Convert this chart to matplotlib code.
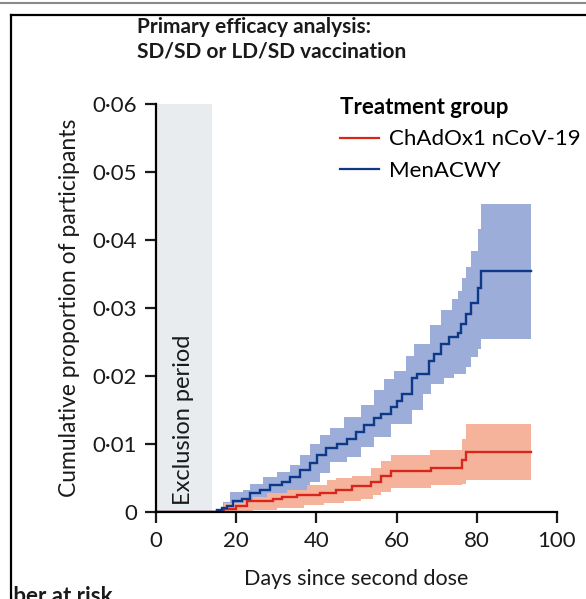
import numpy as np
import matplotlib
matplotlib.use("Agg")
import matplotlib.pyplot as plt
from matplotlib.transforms import Bbox, TransformedBbox, IdentityTransform
from matplotlib.lines import Line2D

plt.rcParams['font.family'] = ['Lato', 'DejaVu Sans']

# ---------------- data ----------------
title_lines = ["Primary efficacy analysis:", "SD/SD or LD/SD vaccination"]
group_names = ["ChAdOx1 nCoV-19", "MenACWY"]
x_ticks = [0, 20, 40, 60, 80, 100]
y_ticks = [0, 0.01, 0.02, 0.03, 0.04, 0.05, 0.06]
y_tick_labels = ["0", "0·01", "0·02", "0·03", "0·04", "0·05", "0·06"]
exclusion_days = (0, 14)
follow_up_end = 93.5

# MenACWY: Kaplan-Meier cumulative proportion (step changes)
blue_t = [0, 15.2, 16.5, 17.7, 19.3, 21.4, 23.5, 26.0, 28.5, 31.4, 33.5, 36.0,
          38.5, 40.2, 42.3, 45.2, 47.7, 49.8, 51.8, 54.3, 56.0, 58.5, 60.2,
          61.4, 63.9, 65.2, 68.1, 69.3, 71.0, 73.1, 75.2, 76.0, 77.3, 78.5,
          80.2, 81.0]
blue_est = [0, 0.0003, 0.0006, 0.0009, 0.0016, 0.0020, 0.0028, 0.0033, 0.0040,
            0.0045, 0.0052, 0.0062, 0.0072, 0.0084, 0.0094, 0.0100, 0.0108,
            0.0118, 0.0128, 0.0138, 0.0145, 0.0155, 0.0164, 0.0174, 0.0198,
            0.0203, 0.0223, 0.0233, 0.0247, 0.0258, 0.0264, 0.0277, 0.0291,
            0.0308, 0.0330, 0.0355]
blue_hi_t = [15.0, 15.2, 16.8, 18.5, 21.8, 23.5, 26.8, 30.2, 33.5, 36.0, 38.5,
             41.0, 43.5, 47.0, 51.0, 54.3, 56.8, 59.3, 62.4, 64.4, 68.3, 71.0,
             73.9, 75.2, 76.4, 77.3, 78.5, 80.2, 81.0]
blue_hi = [0, 0.0005, 0.0015, 0.0030, 0.0033, 0.0042, 0.0052, 0.0059, 0.0069,
           0.0084, 0.0101, 0.0113, 0.0124, 0.0140, 0.0157, 0.0179, 0.0196,
           0.0207, 0.0229, 0.0248, 0.0275, 0.0298, 0.0314, 0.0325, 0.0345,
           0.0360, 0.0384, 0.0416, 0.0453]
blue_lo_t = [15.0, 21.0, 23.5, 26.0, 30.2, 34.3, 38.5, 41.0, 43.5, 47.7, 51.0,
             54.3, 58.5, 63.9, 66.5, 68.5, 71.8, 74.3, 77.3, 78.5, 80.2, 81.0]
blue_lo = [0, 0.0004, 0.0009, 0.0016, 0.0023, 0.0030, 0.0045, 0.0058, 0.0074,
           0.0081, 0.0096, 0.0111, 0.0130, 0.0150, 0.0174, 0.0189, 0.0198,
           0.0203, 0.0213, 0.0228, 0.0240, 0.0255]

# ChAdOx1 nCoV-19
red_t = [0, 15.2, 17.0, 20.0, 22.7, 24.8, 29.3, 31.4, 35.2, 41.0, 45.0, 49.0,
         53.5, 56.0, 58.5, 68.5, 76.4, 77.3]
red_est = [0, 0.0002, 0.0005, 0.0009, 0.0016, 0.0017, 0.0020, 0.0023, 0.0025,
           0.0029, 0.0033, 0.0038, 0.0044, 0.0053, 0.0060, 0.0065, 0.0077,
           0.0089]
red_hi_t = [14.6, 15.2, 17.0, 22.0, 24.3, 27.7, 32.7, 37.7, 42.7, 45.0, 49.0,
            53.5, 56.0, 58.5, 68.3, 76.4, 77.3]
red_hi = [0, 0.0005, 0.0013, 0.0018, 0.0023, 0.0028, 0.0033, 0.0040, 0.0047,
          0.0050, 0.0054, 0.0065, 0.0076, 0.0084, 0.0091, 0.0108, 0.0130]
red_lo_t = [14.6, 24.3, 30.2, 36.8, 42.0, 47.0, 51.0, 54.0, 56.0, 58.5, 68.5,
            76.4, 77.3]
red_lo = [0, 0.0003, 0.0007, 0.0010, 0.0013, 0.0016, 0.0020, 0.0025, 0.0030,
          0.0036, 0.0040, 0.0042, 0.0048]

# ---------------- styling ----------------
RED = "#d8261c"
RED_BAND = "#f6b39b"
BLUE = "#0e3888"
BLUE_BAND = "#9badd8"
EXCL = "#e8ecef"
INK = "#1a1a1a"

W, H = 586, 599
fig = plt.figure(figsize=(W / 100, H / 100), dpi=100)

def px_rect(l, t, r, b):
    return [l / W, 1 - b / H, (r - l) / W, (b - t) / H]

ax = fig.add_axes(px_rect(156, 104, 557, 512.3))


def step_eval(t, v, grid):
    idx = np.searchsorted(np.asarray(t), grid, side="right") - 1
    idx = np.clip(idx, 0, len(v) - 1)
    return np.asarray(v)[idx]


def band(lo_t, lo, hi_t, hi, color, z):
    grid = np.unique(np.concatenate([lo_t, hi_t, [follow_up_end]]))
    grid = grid[grid >= min(lo_t[0], hi_t[0])]
    ax.fill_between(grid, step_eval(lo_t, lo, grid), step_eval(hi_t, hi, grid),
                    step="post", color=color, lw=0, zorder=z)


def km_line(t, v, color, z, label):
    ax.step(list(t) + [follow_up_end], list(v) + [v[-1]], where="post",
            color=color, lw=1.7, zorder=z, label=label, solid_joinstyle="miter")


ax.axvspan(exclusion_days[0], exclusion_days[1], ymin=0, ymax=1, color=EXCL,
           lw=0, zorder=0)
band(blue_lo_t, blue_lo, blue_hi_t, blue_hi, BLUE_BAND, 1)
band(red_lo_t, red_lo, red_hi_t, red_hi, RED_BAND, 2)
km_line(red_t, red_est, RED, 3, group_names[0])
km_line(blue_t, blue_est, BLUE, 4, group_names[1])

ax.text(6.8, 0.01356, "Exclusion period", rotation=90, ha="center",
        va="center", fontsize=17, color=INK)

ax.set_xlim(0, 100)
ax.set_ylim(0, 0.06)
ax.set_xticks(x_ticks)
ax.set_xticklabels([str(v) for v in x_ticks])
ax.set_yticks(y_ticks)
ax.set_yticklabels(y_tick_labels)
for s in ["top", "right"]:
    ax.spines[s].set_visible(False)
for s in ["left", "bottom"]:
    ax.spines[s].set_linewidth(1.6)
    ax.spines[s].set_zorder(5)
ax.tick_params(axis="both", length=8, width=1.6, labelsize=16, pad=5.5,
               colors=INK, labelcolor=INK)
ax.set_xlabel("Days since second dose", fontsize=15.5, labelpad=13, color=INK)
ax.set_ylabel("Cumulative proportion of participants", fontsize=16.5,
              labelpad=9, color=INK)
ax.set_facecolor("none")

leg = ax.legend(loc="upper left", bbox_to_anchor=(0.436, 1.038),
                frameon=False, fontsize=16, handlelength=1.75,
                handletextpad=0.45, labelspacing=0.5, borderaxespad=0,
                title="Treatment group",
                title_fontproperties={"size": 16, "weight": "bold"},
                alignment="left")
for h in leg.get_lines():
    h.set_linewidth(1.6)

# title
fig.text(137 / W, 1 - 27 / H, title_lines[0], fontsize=15,
         fontweight="bold", va="center", ha="left", color=INK)
fig.text(137 / W, 1 - 52 / H, title_lines[1], fontsize=15,
         fontweight="bold", va="center", ha="left", color=INK)

# screenshot frame
fig.add_artist(Line2D([0, 1], [1 - 2.5 / H, 1 - 2.5 / H], color="#8a8a8a",
                      lw=1.5, transform=fig.transFigure))
fig.add_artist(Line2D([11 / W, 1], [1 - 15 / H, 1 - 15 / H], color="black",
                      lw=1.6, transform=fig.transFigure))
fig.add_artist(Line2D([11 / W, 11 / W], [0, 1 - 15 / H], color="black",
                      lw=1.6, transform=fig.transFigure))

# "Number at risk" heading, cut by the frame as in the screenshot
risk_kw = dict(fontsize=16, fontweight="bold", ha="left", va="baseline",
               color=INK)
renderer = fig.canvas.get_renderer()
probe = fig.text(0, 0, "Num", **risk_kw)
num_w = probe.get_window_extent(renderer).width
probe.remove()
t = fig.text((13 - num_w) / W, 1 - 603 / H, "Number at risk", **risk_kw)
t.set_clip_box(TransformedBbox(Bbox.from_extents(12, 0, W, H),
                               IdentityTransform()))
t.set_clip_on(True)

fig.savefig("out.png", dpi=100)
